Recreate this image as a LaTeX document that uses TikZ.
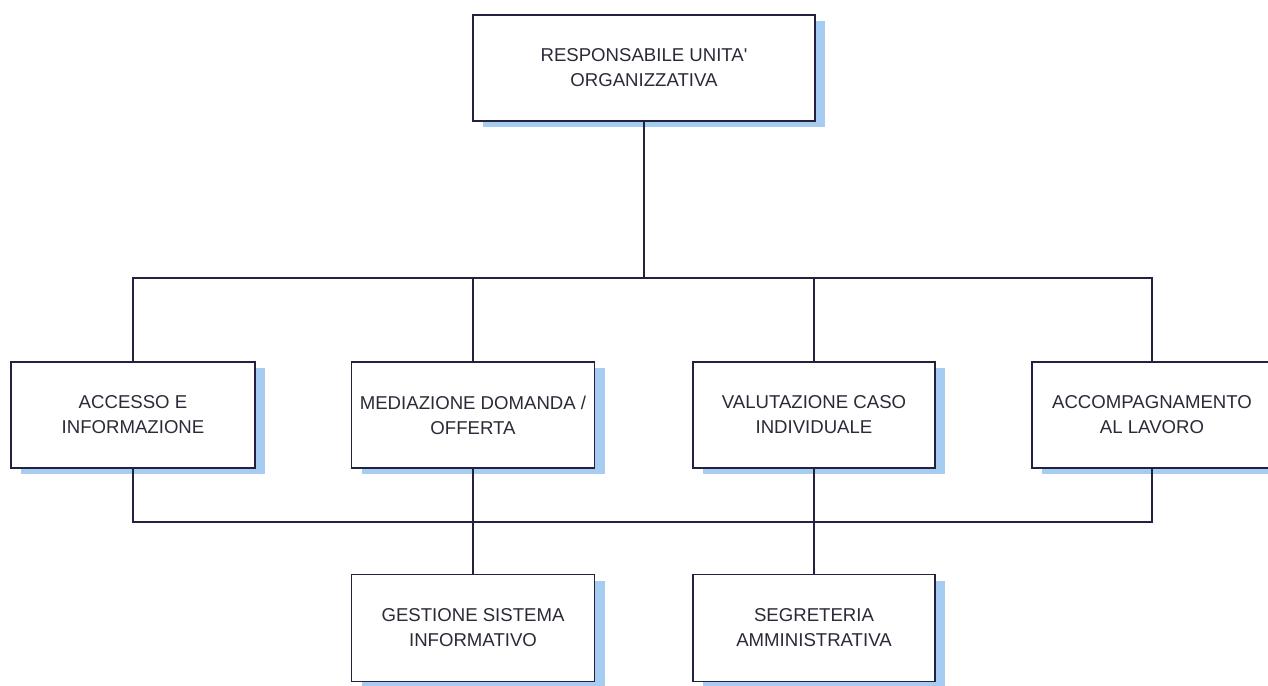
\documentclass[tikz,border=0pt]{standalone}
\usepackage{fontspec}
\setmainfont{Liberation Sans}
\usetikzlibrary{shadows}
\definecolor{linec}{HTML}{22223F}
\definecolor{textc}{HTML}{2A2A38}
\definecolor{shadowc}{HTML}{A6CCF2}
\tikzset{
  orgbox/.style={draw=linec, line width=1.6pt, fill=white, align=center,
    minimum height=106pt, inner sep=2pt, text=textc,
    font=\fontsize{18.6}{25}\selectfont,
    general shadow={fill=shadowc, shadow xshift=10pt, shadow yshift=-6pt}},
  conn/.style={draw=linec, line width=1.6pt}
}
\begin{document}
\begin{tikzpicture}[x=1pt,y=-1pt]
\useasboundingbox[fill=white] (0,0) rectangle (1268,685);
\node[orgbox, minimum width=342pt] (top) at (644,68) {RESPONSABILE UNITA\textquotesingle\\ORGANIZZATIVA};
\node[orgbox, minimum width=244pt] (a) at (133,415) {ACCESSO E\\INFORMAZIONE};
\node[orgbox, minimum width=243pt] (b) at (473,415) {MEDIAZIONE DOMANDA /\\OFFERTA};
\node[orgbox, minimum width=242pt] (c) at (814,415) {VALUTAZIONE CASO\\INDIVIDUALE};
\node[orgbox, minimum width=240pt] (d) at (1152,415) {ACCOMPAGNAMENTO\\AL LAVORO};
\node[orgbox, minimum width=243pt, minimum height=107pt] (g) at (473,628) {GESTIONE SISTEMA\\INFORMATIVO};
\node[orgbox, minimum width=242pt, minimum height=107pt] (s) at (814,628) {SEGRETERIA\\AMMINISTRATIVA};
\coordinate (j1) at (644,278);
\coordinate (j2) at (644,522);
\path[conn] (top.south) -- (j1);
\path[conn] (a.north) |- (j1);
\path[conn] (b.north) |- (j1);
\path[conn] (c.north) |- (j1);
\path[conn] (d.north) |- (j1);
\path[conn] (a.south) |- (j2);
\path[conn] (b.south) |- (j2);
\path[conn] (c.south) |- (j2);
\path[conn] (d.south) |- (j2);
\path[conn] (g.north) -- (g.north |- j2);
\path[conn] (s.north) -- (s.north |- j2);
\end{tikzpicture}
\end{document}
